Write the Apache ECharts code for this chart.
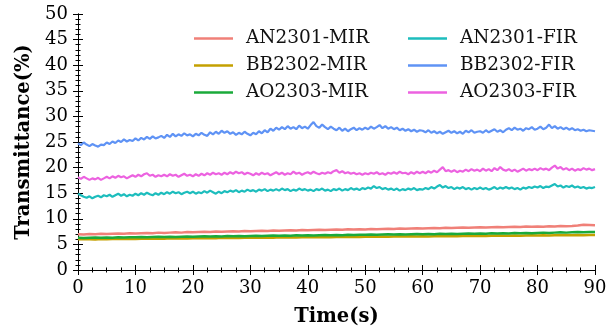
<!DOCTYPE html>
<html><head><meta charset="utf-8">
<script src="https://cdn.jsdelivr.net/npm/echarts@6/dist/echarts.min.js"></script>
<style>html,body{margin:0;padding:0;background:#fff}#c{width:615px;height:332px}</style>
</head><body><div id="c"></div>
<script>
// sampling steps (s)
const firStep = 0.5;
const mirStep = 1;
const xTicks = [0,10,20,30,40,50,60,70,80,90];
const yTicks = [0,5,10,15,20,25,30,35,40,45,50];
const seriesNames = ['AN2301-MIR','BB2302-MIR','AO2303-MIR','AN2301-FIR','BB2302-FIR','AO2303-FIR'];

const an2301MIR = [7.0,6.95,7.05,7.0,7.1,7.05,7.1,7.15,7.1,7.2,
7.15,7.2,7.25,7.2,7.3,7.25,7.3,7.35,7.3,7.4,
7.35,7.4,7.45,7.4,7.5,7.45,7.5,7.55,7.5,7.6,
7.55,7.6,7.65,7.6,7.7,7.65,7.7,7.75,7.7,7.8,
7.75,7.8,7.85,7.8,7.85,7.9,7.85,7.95,7.9,7.95,
7.9,8.0,7.95,8.0,8.05,8.0,8.1,8.05,8.1,8.15,
8.1,8.15,8.2,8.15,8.25,8.2,8.25,8.3,8.25,8.3,
8.35,8.3,8.35,8.4,8.35,8.4,8.45,8.4,8.5,8.45,
8.5,8.45,8.55,8.5,8.6,8.55,8.6,8.7,8.85,8.8,8.75];

const bb2302MIR = [6.0,6.05,6.0,5.95,6.05,6.0,6.05,6.1,6.05,6.1,
6.05,6.1,6.15,6.1,6.15,6.1,6.2,6.15,6.2,6.15,
6.2,6.25,6.2,6.25,6.2,6.3,6.25,6.3,6.25,6.3,
6.3,6.35,6.3,6.35,6.3,6.4,6.35,6.4,6.35,6.4,
6.4,6.45,6.4,6.45,6.4,6.45,6.5,6.45,6.5,6.45,
6.5,6.55,6.5,6.55,6.5,6.55,6.6,6.55,6.6,6.55,
6.6,6.55,6.6,6.65,6.6,6.65,6.6,6.65,6.7,6.65,
6.7,6.65,6.7,6.75,6.7,6.7,6.75,6.7,6.75,6.8,
6.75,6.8,6.75,6.8,6.8,6.85,6.8,6.85,6.8,6.85,6.85];

const ao2303MIR = [6.3,6.25,6.3,6.35,6.3,6.35,6.3,6.4,6.35,6.4,
6.4,6.45,6.4,6.45,6.5,6.45,6.5,6.45,6.5,6.55,
6.5,6.55,6.6,6.55,6.6,6.55,6.65,6.6,6.65,6.6,
6.65,6.7,6.65,6.7,6.75,6.7,6.75,6.7,6.8,6.75,
6.8,6.75,6.8,6.85,6.8,6.85,6.8,6.9,6.85,6.9,
6.9,6.95,6.9,6.95,7.0,6.95,7.0,6.95,7.0,7.05,
7.0,7.05,7.0,7.1,7.05,7.1,7.05,7.1,7.15,7.1,
7.15,7.1,7.2,7.15,7.2,7.15,7.25,7.2,7.25,7.2,
7.25,7.3,7.25,7.3,7.35,7.3,7.35,7.4,7.35,7.4,7.4];

const an2301FIR = [14.9,14.6,14.3,14.1,14.4,14.0,14.3,14.5,14.2,14.6,
14.4,14.7,14.3,14.6,14.9,14.5,14.8,14.4,14.7,14.5,
14.9,14.6,15.0,14.7,15.1,14.8,14.6,15.0,14.7,15.1,
14.8,15.2,14.9,15.3,15.0,15.2,14.8,15.1,15.3,15.0,
15.3,14.9,15.2,15.0,15.4,15.1,15.5,15.2,14.9,15.3,
15.0,15.4,15.2,15.5,15.3,15.6,15.2,15.5,15.3,15.7,
15.4,15.6,15.3,15.7,15.5,15.8,15.4,15.7,15.5,15.8,
15.5,15.9,15.6,15.8,15.4,15.7,15.5,15.9,15.6,15.8,
15.5,15.7,15.4,15.8,15.6,15.9,15.5,15.7,15.4,15.8,
15.6,15.9,15.5,15.8,15.6,16.0,15.7,15.9,15.6,16.0,
15.8,16.1,15.9,16.4,16.0,16.2,15.8,16.0,15.7,15.9,
15.6,15.9,15.5,15.8,15.6,15.9,15.7,16.0,15.6,15.8,
15.7,16.0,15.8,16.2,15.9,16.3,16.6,16.1,16.4,16.0,
16.2,15.8,16.1,15.9,16.2,15.8,16.0,15.7,16.0,15.8,
16.1,15.8,16.0,15.7,15.9,16.2,15.8,16.1,15.9,16.2,
15.9,16.1,15.8,16.0,15.7,16.1,15.9,16.2,16.0,16.3,
16.1,16.4,16.0,16.3,16.2,16.5,16.8,16.3,16.5,16.1,
16.4,16.2,16.5,16.1,16.3,16.0,16.2,15.9,16.1,16.0,16.2];

const bb2302FIR = [24.7,24.4,24.9,24.5,24.2,24.6,24.3,24.1,24.5,24.4,
24.9,24.6,25.1,24.8,25.3,25.0,25.5,25.1,25.4,25.2,
25.7,25.3,25.8,25.5,26.0,25.6,26.1,25.7,25.9,26.2,
25.8,26.4,26.0,26.6,26.1,26.5,26.2,26.7,26.3,26.5,
26.1,26.6,26.3,26.8,26.4,26.2,26.9,26.5,27.0,26.6,
27.2,26.8,27.1,26.6,26.9,26.4,26.8,26.5,27.0,26.6,
26.3,26.8,26.5,27.1,26.7,27.3,26.9,27.6,27.2,27.8,
27.4,27.9,27.5,28.1,27.6,27.9,27.5,28.2,27.7,28.0,
27.6,28.3,28.9,28.1,27.8,28.4,27.9,27.5,28.0,27.6,
27.3,27.8,27.2,27.6,27.1,27.5,27.8,27.3,27.7,27.4,
27.8,27.5,28.0,27.6,27.9,28.3,27.7,28.1,27.6,27.9,
27.5,27.8,27.3,27.6,27.2,27.5,27.1,27.4,27.0,27.3,
27.2,26.9,27.3,26.8,27.1,26.7,27.0,26.6,26.9,27.2,
26.8,27.1,26.7,27.0,26.6,27.2,26.9,27.3,26.8,27.0,
27.1,26.8,27.3,26.9,27.2,27.5,27.0,27.3,26.9,27.4,
27.7,27.3,27.8,27.4,27.6,27.2,27.7,27.5,27.9,27.4,
27.6,28.0,27.5,27.8,28.4,27.7,28.1,27.6,27.9,27.5,
27.8,27.4,27.7,27.3,27.5,27.2,27.4,27.1,27.3,27.2,27.1];

const ao2303FIR = [18.1,17.8,18.2,17.9,17.6,17.9,17.7,18.0,17.6,17.9,
18.2,17.9,18.3,18.0,18.4,18.1,18.3,17.9,18.2,18.5,
18.2,18.6,18.3,18.7,18.9,18.4,18.6,18.2,18.5,18.3,
18.6,18.3,18.7,18.4,18.6,18.2,18.5,18.8,18.4,18.6,
18.3,18.7,18.4,18.8,18.5,18.9,18.6,19.0,18.7,18.9,
18.6,19.0,18.7,19.1,18.8,19.2,18.9,19.1,18.7,19.0,
18.8,18.5,18.9,18.6,19.0,18.7,18.9,18.5,18.8,19.1,
18.7,19.0,18.6,18.9,18.7,19.2,18.8,19.0,18.6,18.9,
19.1,18.8,19.2,18.9,18.7,19.0,18.8,19.1,18.9,19.3,
19.5,19.0,19.3,18.9,19.1,18.8,19.0,18.7,18.9,18.6,
18.9,18.7,19.0,18.8,19.1,18.7,18.9,18.6,19.0,18.8,
19.1,18.8,19.2,18.9,19.0,18.7,19.1,18.8,19.2,18.9,
19.2,18.9,19.3,19.0,19.4,19.1,19.6,20.1,19.3,19.5,
19.2,19.5,19.1,19.4,19.2,19.6,19.3,19.7,19.4,19.6,
19.3,19.8,19.4,19.7,19.3,19.9,19.5,20.1,19.6,19.4,
19.7,19.3,19.6,19.2,19.5,19.8,19.4,19.7,19.5,19.8,
19.5,19.9,19.6,19.8,19.5,20.0,20.4,19.8,20.1,19.6,
19.9,19.5,19.8,19.4,19.7,19.5,19.9,19.6,19.8,19.5,19.7];

const colors = ['#f08078','#c4a000','#1aaa3a','#1dbdbd','#5f93f5','#ec62e0'];
const font = 'DejaVu Serif';

function pairs(arr, step){ return arr.map((v,i)=>[i*step, v]); }
const seriesData = [pairs(an2301MIR,mirStep), pairs(bb2302MIR,mirStep), pairs(ao2303MIR,mirStep),
                    pairs(an2301FIR,firStep), pairs(bb2302FIR,firStep), pairs(ao2303FIR,firStep)];

const chart = echarts.init(document.getElementById('c'), null, {renderer:'canvas'});
const axisCommon = {
  axisLine:{show:true, lineStyle:{color:'#000', width:1}},
  axisTick:{show:true, inside:true, length:5, lineStyle:{color:'#000'}},
  splitLine:{show:false}
};
const xMinor = {minorTick:{show:true, splitNumber:4, length:2.5, lineStyle:{color:'#000'}}};
const yMinor = {minorTick:{show:true, splitNumber:5, length:2.5, lineStyle:{color:'#000'}}};
const legendCommon = {orient:'vertical', icon:'rect', itemWidth:39, itemHeight:2.5, itemGap:8,
  textStyle:{fontFamily:font, fontSize:18.5, color:'#111', lineHeight:19, padding:[0,0,0,8]}};
chart.setOption({
  animation:false,
  color: colors,
  grid:{left:78, right:20, top:14, bottom:62},
  legend:[
    Object.assign({data:seriesNames.slice(0,3), left:189, top:24}, legendCommon),
    Object.assign({data:seriesNames.slice(3), left:403, top:24}, legendCommon)
  ],
  xAxis:[
    Object.assign({type:'value', min:0, max:90, interval:10, position:'bottom',
      name:'Time(s)', nameLocation:'middle', nameGap:37,
      nameTextStyle:{fontFamily:font, fontWeight:'bold', fontSize:19.5, color:'#000'},
      axisLabel:{fontFamily:font, fontSize:18, color:'#000', margin:9}}, axisCommon, xMinor),
    Object.assign({type:'value', min:0, max:90, interval:10, position:'top', axisLabel:{show:false}}, axisCommon, xMinor)
  ],
  yAxis:[
    Object.assign({type:'value', min:0, max:50, interval:5, position:'left',
      name:'Transmittance(%)', nameLocation:'middle', nameGap:43,
      nameTextStyle:{fontFamily:font, fontWeight:'bold', fontSize:19.5, color:'#000'},
      axisLabel:{fontFamily:font, fontSize:18, color:'#000', margin:10}}, axisCommon, yMinor),
    Object.assign({type:'value', min:0, max:50, interval:5, position:'right', axisLabel:{show:false}}, axisCommon, yMinor)
  ],
  series: seriesNames.map((n,i)=>({
    name:n, type:'line', data:seriesData[i], symbol:'none', showSymbol:false,
    lineStyle:{width: i<3 ? 2.5 : 2.2, color:colors[i]}, itemStyle:{color:colors[i]}, z: 2
  }))
});
</script></body></html>
